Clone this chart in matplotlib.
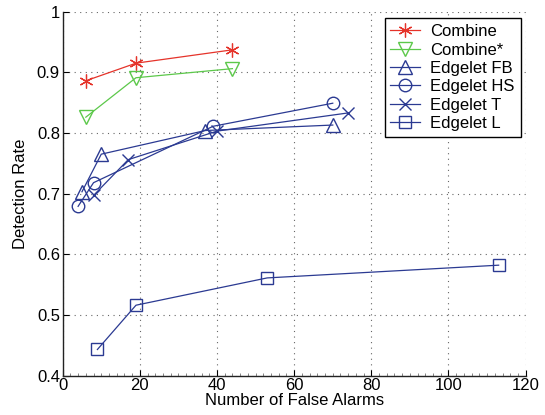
import matplotlib.pyplot as plt
from matplotlib.ticker import MultipleLocator

plt.rcParams['font.family'] = ['Liberation Sans', 'DejaVu Sans']

combine_x = [6, 19, 44]
combine_y = [0.886, 0.915, 0.937]
combine_star_x = [6, 19, 44]
combine_star_y = [0.826, 0.891, 0.906]
fb_x = [5, 10, 37, 70]
fb_y = [0.703, 0.765, 0.804, 0.813]
hs_x = [4, 8, 39, 70]
hs_y = [0.679, 0.718, 0.811, 0.849]
t_x = [8, 17, 40, 74]
t_y = [0.697, 0.756, 0.803, 0.833]
l_x = [9, 19, 53, 113]
l_y = [0.443, 0.516, 0.561, 0.582]

red = '#e5332a'
green = '#5cc84a'
blue = '#2b3a92'

fig = plt.figure(figsize=(5.45, 4.15), dpi=100)
ax = fig.add_axes([0.115, 0.095, 0.8495, 0.877])

# matlab style asterisk
ax.plot(combine_x, combine_y, color=red, marker=(6, 2, 0), markersize=10, lw=0.9,
        markeredgewidth=0.9, label='Combine')
ax.plot(combine_star_x, combine_star_y, color=green, marker='v', markersize=10, lw=0.9,
        markerfacecolor='none', label='Combine*')
ax.plot(fb_x, fb_y, color=blue, marker='^', markersize=10, lw=0.9,
        markerfacecolor='none', label='Edgelet FB')
ax.plot(hs_x, hs_y, color=blue, marker='o', markersize=9, lw=0.9,
        markerfacecolor='none', label='Edgelet HS')
ax.plot(t_x, t_y, color=blue, marker='x', markersize=8, lw=0.9,
        label='Edgelet T')
ax.plot(l_x, l_y, color=blue, marker='s', markersize=8, lw=0.9,
        markerfacecolor='none', label='Edgelet L')

ax.set_xlim(0, 120)
ax.set_ylim(0.4, 1)
ax.set_xticks(range(0, 121, 20))
ax.set_yticks([0.4, 0.5, 0.6, 0.7, 0.8, 0.9, 1])
ax.set_yticklabels(['0.4', '0.5', '0.6', '0.7', '0.8', '0.9', '1'])
ax.xaxis.set_minor_locator(MultipleLocator(2))
ax.grid(True, linestyle=(0, (1, 4)), color='#666666', lw=0.8)
ax.tick_params(direction='in', labelsize=12, length=4, width=0.8, pad=2)
ax.tick_params(which='minor', direction='in', length=2, width=0.5, color='#555555')
ax.spines['top'].set_visible(False)
ax.spines['right'].set_visible(False)
for s in ['left', 'bottom']:
    ax.spines[s].set_linewidth(1.0)
    ax.spines[s].set_color('#222222')

ax.set_xlabel('Number of False Alarms', fontsize=12, labelpad=0)
ax.set_ylabel('Detection Rate', fontsize=12, labelpad=6)

leg = ax.legend(loc='upper right', fontsize=12, fancybox=False, framealpha=1,
                edgecolor='black', borderpad=0.35, labelspacing=0.2,
                handlelength=1.8, handletextpad=0.6, borderaxespad=0.3,
                bbox_to_anchor=(1.0, 0.995))
leg.get_frame().set_linewidth(1.0)

fig.savefig('out.png', dpi=100)
